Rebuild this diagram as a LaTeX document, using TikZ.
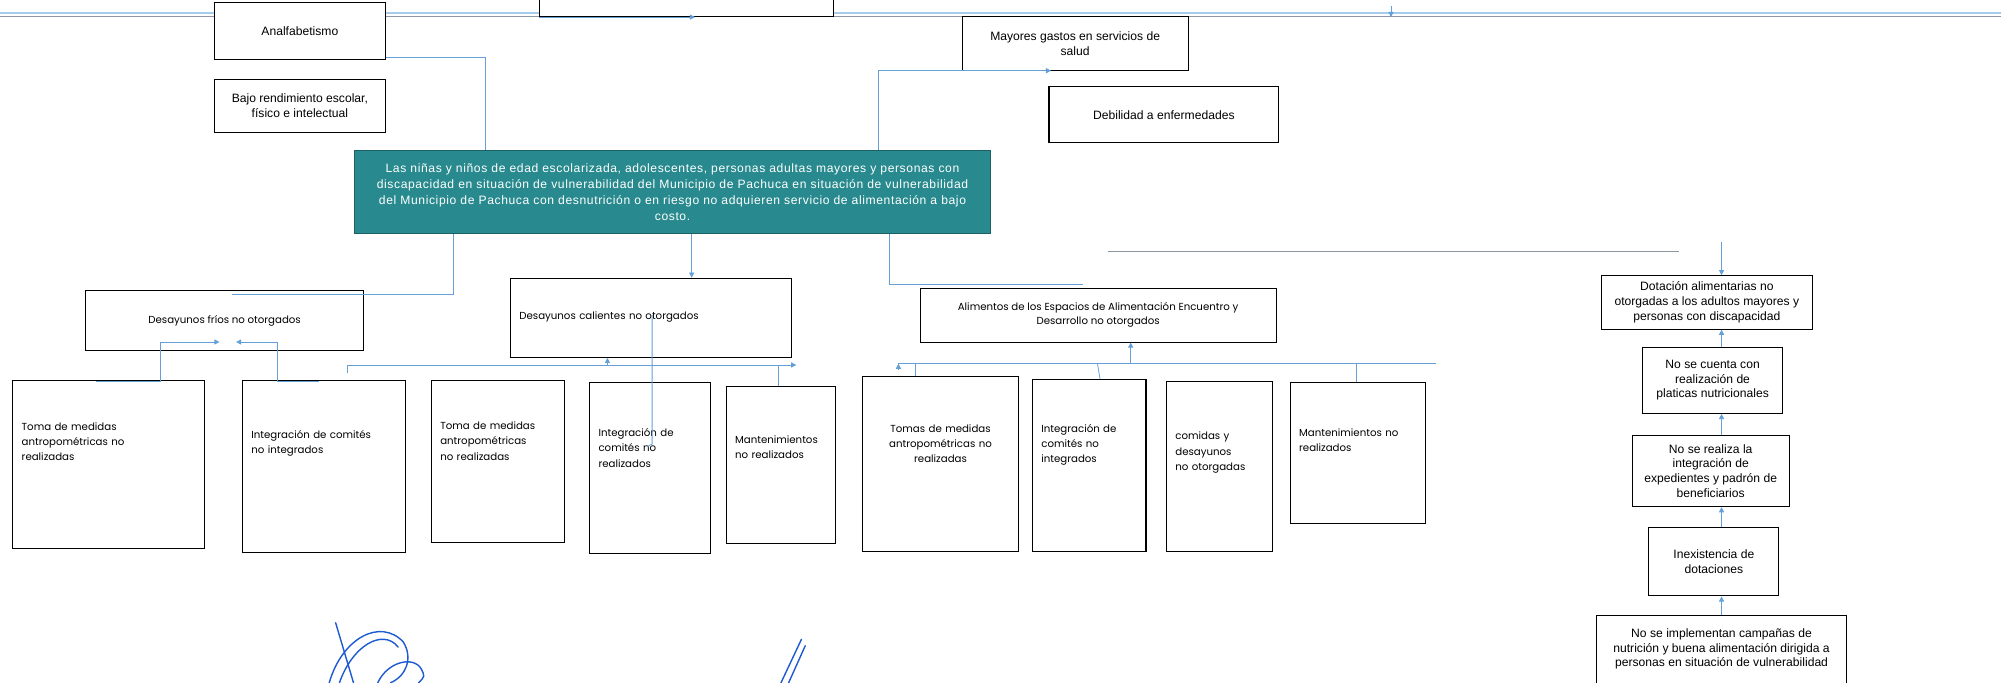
\documentclass[tikz,border=0pt]{standalone}
\usepackage{fontspec}
\setmainfont{Liberation Sans}
\newfontfamily\popfont{Poppins}
\newfontfamily\tealfont[LetterSpace=5]{Liberation Sans}
\usepackage{tikz}
\usetikzlibrary{arrows.meta}
\definecolor{azulLinea}{RGB}{100,160,215}
\definecolor{azulClaro}{RGB}{165,205,235}
\definecolor{grisLinea}{RGB}{140,150,165}
\definecolor{tealProb}{RGB}{40,138,142}
\definecolor{azulFirma}{RGB}{30,90,210}

\begin{document}
\begin{tikzpicture}[x=1pt,y=-1pt,
    caja/.style={draw=black,line width=0.8pt,fill=white,align=center,inner sep=3pt,
        font=\fontsize{9.5}{11.5}\selectfont},
    cajaP/.style={draw=black,line width=0.8pt,fill=white,align=left,inner xsep=7pt,
        text depth=56pt,font=\popfont\fontsize{8}{12}\selectfont},
    cajaTeal/.style={draw=tealProb!70!black,line width=0.6pt,fill=tealProb,text=white,
        align=center,inner xsep=4pt,font=\tealfont\fontsize{9.5}{12.5}\selectfont},
    linea/.style={draw=azulLinea,line width=0.6pt},
    flecha/.style={linea,-{Triangle[length=4pt,width=4pt]}},
    firma/.style={draw=azulFirma,line width=1.1pt,line cap=round}]
                \fill[white] (0,0) rectangle (1568,535);
                \useasboundingbox (0,0) rectangle (1568,535);
                \clip (0,0) rectangle (1568,535);
                % linea doble de arriba
                \coordinate (t0) at (0,10);
                \coordinate (t1) at (1568,10);
                \draw[azulClaro,line width=1.2pt] (t0) -- (t1);
                \draw[grisLinea,line width=0.5pt] ([yshift=-2.5pt]t0) -- ([yshift=-2.5pt]t1);
                % efectos
                \node[caja,minimum width=230pt,minimum height=33pt] (efecto) at (538,-3.5) {};
                \node[caja,minimum width=134pt,minimum height=45pt] (analf) at (235,24.5) {Analfabetismo};
                \node[caja,minimum width=134pt,minimum height=42pt] (bajoRend) at (235,83) {Bajo rendimiento escolar,\\ físico e intelectual};
                \node[caja,minimum width=177pt,minimum height=42pt] (mayores) at (842.5,34) {Mayores gastos en servicios de\\ salud};
                \node[caja,minimum width=180pt,minimum height=44pt] (debilidad) at (912,90) {Debilidad a enfermedades};
                % problema central
                \node[cajaTeal,minimum width=498pt,minimum height=65pt,text width=488pt] (problema) at (527,150.5)
                    {Las niñas y niños de edad escolarizada, adolescentes, personas adultas mayores y personas con\\
                     discapacidad  en situación de vulnerabilidad del Municipio de Pachuca en situación de vulnerabilidad\\
                     del Municipio de Pachuca  con desnutrición o en riesgo no adquieren servicio de alimentación a bajo\\
                     costo.};
                % causas
                \node[cajaP,align=center,text depth=3pt,minimum width=218pt,minimum height=47pt] (frios) at (176,251.5) {Desayunos fríos no otorgados};
                \node[cajaP,text depth=3pt,text width=206pt,minimum height=62pt] (calientes) at (510,249) {Desayunos calientes  no otorgados};
                \node[cajaP,align=center,text depth=3pt,font=\popfont\fontsize{8}{11}\selectfont,minimum width=279pt,minimum height=42pt] (alimentos) at (860.5,247)
                    {Alimentos de los Espacios de Alimentación Encuentro y\\ Desarrollo no otorgados};
                \node[cajaP,text depth=60pt,text width=136pt,minimum height=132pt] (frA) at (85,364) {Toma de medidas\\ antropométricas  no\\ realizadas};
                \node[cajaP,text depth=50pt,text width=114pt,minimum height=135pt] (frB) at (254,365.5) {Integración de comités\\ no integrados};
                \node[cajaP,text width=90pt,minimum height=127pt] (caA) at (390,361.5) {Toma de medidas\\ antropométricas\\ no realizadas};
                \node[cajaP,text width=81pt,minimum height=134pt] (caB) at (509.5,367) {Integración de\\ comités no\\ realizados};
                \node[cajaP,text depth=40pt,text width=72pt,minimum height=123pt] (caC) at (612,364.5) {Mantenimientos\\ no realizados};
                \node[cajaP,align=center,text width=108pt,minimum height=137pt] (alA) at (737,363.5) {Tomas de medidas\\ antropométricas no\\ realizadas};
                \node[cajaP,text depth=58pt,text width=75pt,minimum height=135pt] (alB) at (853.5,364.5) {Integración de\\ comités no\\ integrados};
                \node[cajaP,text depth=48pt,text width=69pt,minimum height=133pt] (alC) at (955.5,365.5) {comidas y\\ desayunos\\ no otorgadas};
                \node[cajaP,text depth=32pt,text width=92pt,minimum height=110pt] (alD) at (1064,355) {Mantenimientos no\\ realizados};
                % columna derecha
                \node[caja,minimum width=165pt,minimum height=42pt] (doA) at (1337.5,237) {Dotación alimentarias no\\ otorgadas a los adultos mayores y\\ personas con discapacidad};
                \node[caja,minimum width=110pt,minimum height=52pt] (doB) at (1342,298) {No se cuenta con\\ realización de\\ platicas nutricionales};
                \node[caja,minimum width=123pt,minimum height=56pt] (doC) at (1340.5,369) {No se realiza la\\ integración de\\ expedientes y padrón de\\ beneficiarios};
                \node[caja,minimum width=102pt,minimum height=54pt] (doD) at (1343,440) {Inexistencia de\\ dotaciones};
                \node[caja,minimum width=196pt,minimum height=63pt,text depth=12pt] (doE) at (1349,513.5) {No se implementan campañas de\\ nutrición y buena alimentación dirigida a\\ personas en situación de vulnerabilidad};
                % flechas de la linea de arriba
                \draw[flecha] (efecto.south west) -- ([xshift=122pt]efecto.south west);
                \coordinate (t2) at (1090,5);
                \draw[flecha] (t2) -- (t2 |- efecto.south);
                % efectos -> problema
                \coordinate (p1) at (380,45);
                \draw[linea] (analf.east |- p1) -- (p1) -- (p1 |- problema.north);
                \coordinate (p2) at (688,0);
                \draw[flecha] (p2 |- problema.north) |- ([xshift=70pt]mayores.south west);
                % problema -> causas
                \coordinate (p3) at (355,231);
                \coordinate (p3b) at (182,231);
                \draw[linea] (p3 |- problema.south) -- (p3) -- (p3b);
                \coordinate (p4) at (542,0);
                \draw[flecha] (p4 |- problema.south) -- (p4 |- calientes.north);
                \coordinate (p5) at (697,223);
                \coordinate (p5b) at (849,223);
                \draw[linea] (p5 |- problema.south) -- (p5) -- (p5b);
                % desayunos frios
                \coordinate (q1) at (75,299);
                \coordinate (q2) at (126,268);
                \coordinate (q3) at (172,268);
                \draw[flecha] (q1) -| (q2) -- (q3);
                \coordinate (q4) at (250,299);
                \coordinate (q5) at (217,268);
                \coordinate (q6) at (185,268);
                \draw[flecha] (q4) -| (q5) -- (q6);
                % desayunos calientes
                \coordinate (r0) at (272,286);
                \coordinate (r1) at (624,286);
                \draw[flecha] (r0) -- (r1);
                \draw[linea] (r0) -- ++(0,6);
                \coordinate (r2) at (476,286);
                \draw[flecha] (r2) -- (r2 |- calientes.south);
                \coordinate (r3) at (610,286);
                \draw[linea] (r3) -- (r3 |- caC.north);
                \coordinate (s1) at (511,247);
                \coordinate (s2) at (511,348);
                \draw[linea] (s1) -- (s2) -- ++(-4,2);
                % alimentos
                \coordinate (u0) at (704,285);
                \coordinate (u1) at (1125,285);
                \draw[linea] (u0) -- (u1);
                \draw[flecha] ([yshift=-4pt]u0) -- ++(0,-4);
                \coordinate (u2) at (886,285);
                \draw[flecha] (u2) -- (u2 |- alimentos.south);
                \coordinate (u3) at (717,285);
                \draw[linea] (u3) -- (u3 |- alA.north);
                \coordinate (u4) at (860,285);
                \draw[linea] (u4) -- (862,297);
                \coordinate (u5) at (1063,285);
                \draw[linea] (u5) -- (u5 |- alD.north);
                % columna derecha
                \coordinate (v0) at (868,197);
                \coordinate (v1) at (1316,197);
                \draw[grisLinea,line width=0.8pt] (v0) -- (v1);
                \coordinate (xr) at (1349,190);
                \draw[flecha] (xr) -- (xr |- doA.north);
                \draw[flecha] (xr |- doB.north) -- (xr |- doA.south);
                \draw[flecha] (xr |- doC.north) -- (xr |- doB.south);
                \draw[flecha] (xr |- doD.north) -- (xr |- doC.south);
                \draw[flecha] (xr |- doE.north) -- (xr |- doD.south);
                %\draw[grisLinea] (0,520) -- (1568,520);
                % firmas
                \draw[firma] (263,488) -- (277,535);
                \draw[firma] (258,535) .. controls (268,500) and (298,484) .. (316,503) .. controls (324,516) and (318,530) .. (306,535);
                \draw[firma] (266,535) .. controls (276,506) and (300,492) .. (312,507);
                \draw[firma] (296,535) .. controls (304,518) and (324,514) .. (330,524) .. controls (333,530) .. (328,535);
                \draw[firma] (612,535) -- (628,501);
                \draw[firma] (618,535) -- (631,506);
\end{tikzpicture}
\end{document}
